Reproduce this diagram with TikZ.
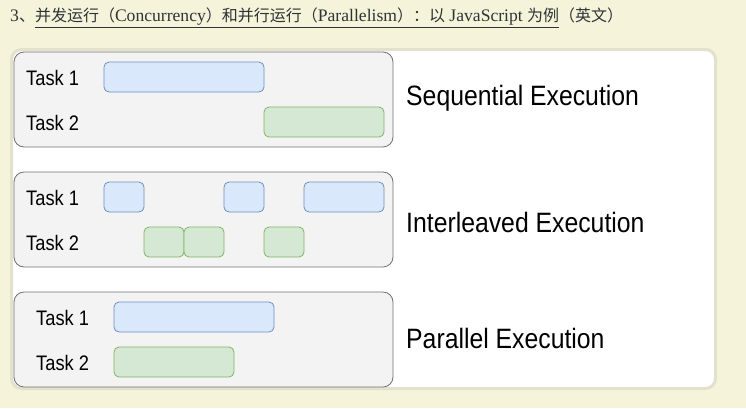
\documentclass[tikz,border=0pt]{standalone}
\usepackage{fontspec}
\setmainfont{Liberation Serif}
\newfontfamily\cjk{Noto Sans CJK SC}
\newfontfamily\labelfont[FakeStretch=0.87]{Liberation Sans}
\newfontfamily\modefont[FakeStretch=0.885]{Liberation Sans}
\usetikzlibrary{positioning}
\definecolor{pagebg}{HTML}{F5F4DA}
\definecolor{panelline}{HTML}{E2E1CB}
\definecolor{titletext}{HTML}{2E3436}
\definecolor{lanefill}{HTML}{F3F3F3}
\definecolor{laneline}{HTML}{707070}
\definecolor{bluefill}{HTML}{DAE8FC}
\definecolor{blueline}{HTML}{6C8EBF}
\definecolor{greenfill}{HTML}{D5E8D4}
\definecolor{greenline}{HTML}{82B366}
\newcommand{\zh}[1]{{\cjk\fontsize{16}{18}\selectfont #1}}
\tikzset{
    lane/.style={rectangle,rounded corners=10pt,draw=laneline,fill=lanefill,line width=0.8pt,minimum width=379pt,minimum height=95pt,inner sep=0pt},
    bar/.style={rectangle,rounded corners=5pt,minimum height=30pt,inner sep=0pt,line width=0.8pt},
    taskA/.style={bar,draw=blueline,fill=bluefill},
    taskB/.style={bar,draw=greenline,fill=greenfill},
    tasklabel/.style={anchor=west,inner sep=0pt,font=\labelfont\fontsize{21}{24}\selectfont},
    modelabel/.style={anchor=west,inner sep=0pt,font=\modefont\fontsize{28}{32}\selectfont}
    }

\begin{document}
\begin{tikzpicture}[x=1pt,y=-1pt]

        % page and panel
        \fill[pagebg] (0,0) rectangle (746,408);
        \useasboundingbox (0,0) rectangle (746,408);
        \node[anchor=west, inner sep=0pt, text=titletext, font=\fontsize{17.6}{20}\selectfont] (title) at (10,18)
            {3\zh{、}\underline{\zh{并发运行（}Concurrency\zh{）和并行运行（}Parallelism\zh{）：以} JavaScript \zh{为例}}\zh{（英文）}};
        \draw[rounded corners=10pt, draw=panelline, line width=3pt, fill=white] (11.5,49.5) rectangle (715.5,388.5);

        % lanes
        \node[lane] (seq) at (203.5,99.5) {};
        \node[lane] (inter) at (203.5,219.5) {};
        \node[lane] (par) at (203.5,339.5) {};

        % sequential
        \node[tasklabel] (seq1) at (26,78) {Task 1};
        \node[tasklabel] (seq2) at (26,123) {Task 2};
        \node[taskA, minimum width=160pt] (seqA) at (184,77) {};
        \node[taskB, minimum width=120pt] (seqB) at (324,122) {};
        \node[modelabel] (seqname) at (406,98) {Sequential Execution};

        % interleaved
        \node[tasklabel] (inter1) at (26,198) {Task 1};
        \node[tasklabel] (inter2) at (26,243) {Task 2};
        \node[taskA, minimum width=40pt] (interA1) at (124,197) {};
        \node[taskA, minimum width=40pt] (interA2) at (244,197) {};
        \node[taskA, minimum width=80pt] (interA3) at (344,197) {};
        \node[taskB, minimum width=40pt] (interB1) at (164,242) {};
        \node[taskB, minimum width=40pt] (interB2) at (204,242) {};
        \node[taskB, minimum width=40pt] (interB3) at (284,242) {};
        \node[modelabel] (intername) at (406,222) {Interleaved Execution};

        % parallel
        \node[tasklabel] (par1) at (36,318) {Task 1};
        \node[tasklabel] (par2) at (36,363) {Task 2};
        \node[taskA, minimum width=160pt] (parA) at (194,317) {};
        \node[taskB, minimum width=120pt] (parB) at (174,362) {};
        \node[modelabel] (parname) at (406,338) {Parallel Execution};
    \end{tikzpicture}
\end{document}
